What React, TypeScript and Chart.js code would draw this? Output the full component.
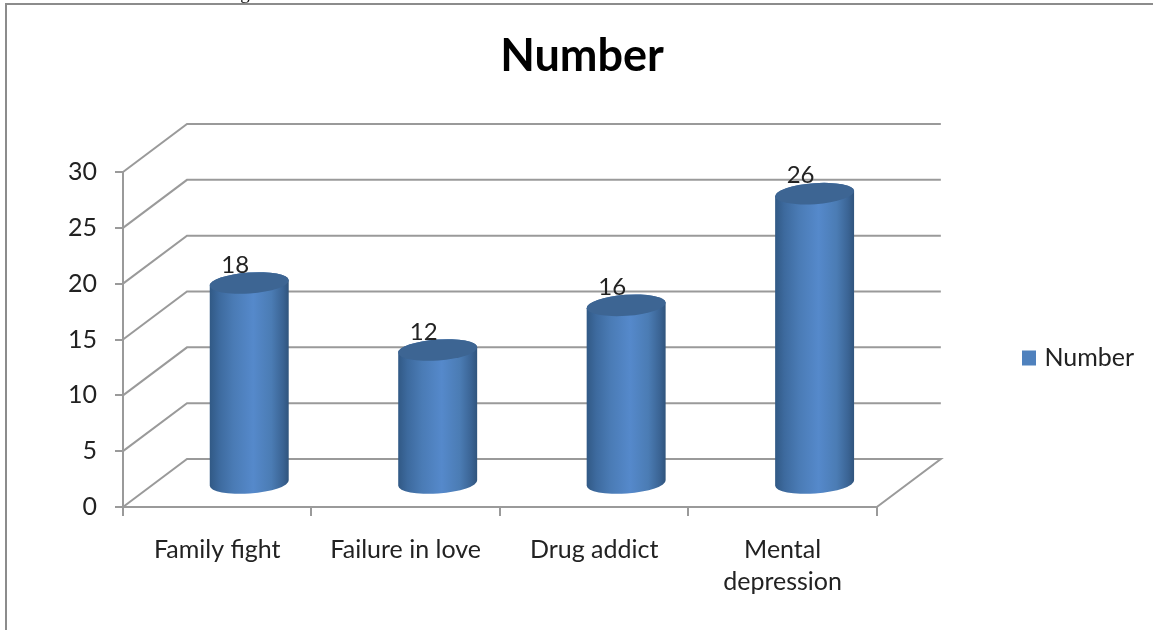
import React, { useEffect, useRef } from "react";
import { Chart, registerables } from "chart.js";

Chart.register(...registerables);

const categories = ["Family fight", "Failure in love", "Drug addict", ["Mental", "depression"]];
const seriesName = "Number";
const seriesValues = [18, 12, 16, 26];
const valueTicks = [0, 5, 10, 15, 20, 25, 30];

const FONT = "Lato, Carlito, Calibri, sans-serif";
const TEXT = "#222222";
const GRID = "#9a9a9a";
const FILL = "#4F81BD";

// Oblique depth of the 3D box, and of the cylinders standing at its mid depth.
const DEPTH_X = 64;
const DEPTH_Y = 48;

const framePlugin = {
  id: "pageFrame",
  beforeDraw(chart: any) {
    const { ctx, width, height } = chart;
    ctx.save();
    ctx.fillStyle = "#ffffff";
    ctx.fillRect(0, 0, width, height);
    // Descender of the caption line that runs off the top of the page.
    ctx.fillStyle = "#111111";
    ctx.font = "19px 'Liberation Serif', serif";
    ctx.textAlign = "center";
    ctx.textBaseline = "alphabetic";
    ctx.fillText("g", 245, -1);
    ctx.strokeStyle = "#8c8c8c";
    ctx.lineWidth = 2;
    ctx.beginPath();
    ctx.moveTo(6, height);
    ctx.lineTo(6, 4);
    ctx.lineTo(width, 4);
    ctx.stroke();
    ctx.restore();
  },
};

// Back wall and floor of the box, derived from the value and category scales.
const wallPlugin = {
  id: "backWall",
  beforeDatasetsDraw(chart: any) {
    const { ctx, scales } = chart;
    const { left, right } = chart.chartArea;
    const backLeft = left + DEPTH_X;
    const backRight = right + DEPTH_X;
    ctx.save();
    ctx.strokeStyle = GRID;
    ctx.lineWidth = 2;
    valueTicks.forEach((v) => {
      const y = scales.y.getPixelForValue(v);
      ctx.beginPath();
      ctx.moveTo(left, y);
      ctx.lineTo(backLeft, y - DEPTH_Y);
      ctx.lineTo(backRight, y - DEPTH_Y);
      if (v === 0) ctx.lineTo(right, y);
      ctx.stroke();
    });
    ctx.restore();
  },
};

// Replaces the flat bar with a shaded cylinder and writes its value above it.
const cylinderPlugin = {
  id: "cylinders",
  beforeDatasetDraw(chart: any, args: any) {
    const { ctx } = chart;
    const meta = chart.getDatasetMeta(args.index);
    const values = chart.data.datasets[args.index].data;
    const tilt = -0.072;
    const ry = 10.5;
    meta.data.forEach((bar: any, i: number) => {
      const cx = bar.x + DEPTH_X / 2;
      const rx = bar.width / 2;
      const top = bar.y - DEPTH_Y / 2 + 1;
      const bottom = bar.base - DEPTH_Y / 2 + 1;
      const grad = ctx.createLinearGradient(cx - rx, 0, cx + rx, 0);
      grad.addColorStop(0, "#315985");
      grad.addColorStop(0.12, "#3d6a9e");
      grad.addColorStop(0.3, "#4a7bb5");
      grad.addColorStop(0.55, "#5589cb");
      grad.addColorStop(0.78, "#4b7cb4");
      grad.addColorStop(0.93, "#3a6393");
      grad.addColorStop(1, "#30547c");
      ctx.save();
      ctx.fillStyle = grad;
      ctx.beginPath();
      ctx.ellipse(cx, bottom, rx, ry, tilt, 0, Math.PI);
      ctx.ellipse(cx, top, rx, ry, tilt, Math.PI, Math.PI * 2);
      ctx.closePath();
      ctx.fill();
      ctx.fillStyle = "#3d6593";
      ctx.beginPath();
      ctx.ellipse(cx, top, rx, ry, tilt, 0, Math.PI * 2);
      ctx.fill();
      ctx.fillStyle = TEXT;
      ctx.font = `24px ${FONT}`;
      ctx.textAlign = "center";
      ctx.textBaseline = "middle";
      ctx.fillText(String(values[i]), bar.x + 18, bar.y - 41);
      ctx.restore();
    });
    return false;
  },
};

// Moves the title and legend to their places beside the fixed plot box.
const placementPlugin = {
  id: "placement",
  afterLayout(chart: any) {
    const { legend, titleBlock } = chart;
    if (titleBlock) {
      const shift = 582 - (titleBlock.left + titleBlock.right) / 2;
      titleBlock.left += shift;
      titleBlock.right += shift;
    }
    if (legend) {
      const dx = 1016 - legend.left;
      const dy = 358 - (legend.top + legend.bottom) / 2;
      legend.left += dx;
      legend.right += dx;
      legend.top += dy;
      legend.bottom += dy;
    }
  },
};

export default function App() {
  const ref = useRef<HTMLCanvasElement>(null);

  useEffect(() => {
    const chart = new Chart(ref.current as HTMLCanvasElement, {
      type: "bar",
      data: {
        labels: categories as any,
        datasets: [
          {
            label: seriesName,
            data: seriesValues,
            backgroundColor: FILL,
            borderColor: FILL,
            borderWidth: 8,
            barPercentage: 0.42,
            categoryPercentage: 1,
          },
        ],
      },
      options: {
        animation: false,
        responsive: false,
        layout: { padding: { top: 0, right: 148, bottom: 0, left: 0 } },
        plugins: {
          tooltip: { enabled: false },
          title: {
            display: true,
            text: seriesName,
            color: "#000000",
            font: { family: FONT, size: 45, weight: "bold", lineHeight: 1.2 },
            padding: { top: 29, bottom: 89 },
          },
          legend: {
            display: true,
            position: "right",
            fullSize: false,
            labels: {
              boxWidth: 6,
              boxHeight: 7,
              padding: 10,
              color: TEXT,
              font: { family: FONT, size: 25 },
            },
          },
        },
        scales: {
          x: {
            afterFit: (s: any) => {
              s.height = 123;
            },
            grid: { drawOnChartArea: false, color: GRID, lineWidth: 2, tickLength: 9 },
            border: { color: GRID, width: 2 },
            ticks: {
              color: TEXT,
              font: { family: FONT, size: 25, lineHeight: 1.28 },
              padding: 18,
              maxRotation: 0,
              autoSkip: false,
            },
          },
          y: {
            min: 0,
            max: 30,
            afterFit: (s: any) => {
              s.width = 123;
            },
            grid: { drawOnChartArea: false, color: GRID, lineWidth: 2, tickLength: 8 },
            border: { color: GRID, width: 2 },
            ticks: {
              stepSize: 5,
              color: TEXT,
              font: { family: FONT, size: 25 },
              padding: 18,
            },
          },
        },
      },
      plugins: [framePlugin, wallPlugin, cylinderPlugin, placementPlugin],
    } as any);
    return () => chart.destroy();
  }, []);

  return (
    <canvas
      ref={ref}
      width={1153}
      height={630}
      style={{ position: "absolute", left: 0, top: 0, display: "block" }}
    />
  );
}
